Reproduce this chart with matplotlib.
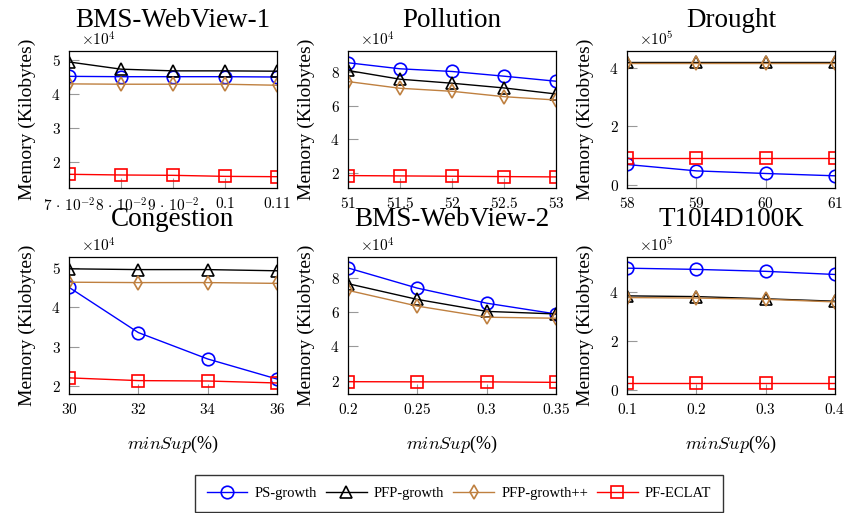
import matplotlib
matplotlib.use("Agg")
import matplotlib.pyplot as plt
from matplotlib.ticker import FuncFormatter

plt.rcParams['font.family'] = ['Liberation Serif', 'DejaVu Serif']
plt.rcParams['mathtext.fontset'] = 'cm'

# memory in kilobytes
titles = ["BMS-WebView-1", "Pollution", "Drought", "Congestion", "BMS-WebView-2", "T10I4D100K"]
xs = [
    [0.07, 0.08, 0.09, 0.1, 0.11],
    [51, 51.5, 52, 52.5, 53],
    [58, 59, 60, 61],
    [30, 32, 34, 36],
    [0.2, 0.25, 0.3, 0.35],
    [0.1, 0.2, 0.3, 0.4],
]
ps_growth = [
    [45100, 45000, 45000, 45000, 44900],
    [85600, 82000, 80400, 77600, 74600],
    [69000, 47000, 38000, 30000],
    [45100, 33600, 26900, 21800],
    [85900, 74100, 65300, 59000],
    [500000, 495000, 487000, 474000],
]
pfp_growth = [
    [49300, 47200, 46700, 46700, 46600],
    [81000, 75800, 73400, 70600, 67000],
    [423000, 423000, 423000, 423000],
    [49800, 49600, 49600, 49300],
    [76700, 67500, 60500, 59000],
    [386000, 383000, 374000, 364000],
]
pfp_growthpp = [
    [42900, 42800, 42800, 42800, 42500],
    [74400, 70400, 68600, 65400, 63400],
    [420000, 420000, 420000, 420000],
    [46400, 46300, 46300, 46100],
    [72800, 63600, 57100, 56500],
    [379000, 377000, 372000, 361000],
]
pf_eclat = [
    [16500, 16300, 16200, 15900, 15800],
    [18400, 18200, 18000, 17800, 17600],
    [92000, 92000, 92000, 92000],
    [22100, 21400, 21300, 20800],
    [19400, 19300, 19300, 19000],
    [26000, 26000, 26000, 26000],
]
scales = [4, 4, 5, 4, 4, 5]
yticks = [[2, 3, 4, 5], [2, 4, 6, 8], [0, 2, 4], [2, 3, 4, 5], [2, 4, 6, 8], [0, 2, 4]]
ylims = [(1.25, 5.25), (1.1, 9.26), (-0.12, 4.6), (1.8, 5.28), (1.22, 9.23), (-0.18, 5.46)]
bms1_xlabels = [r'$7\,\cdot\,10^{-2}$', r'$8\,\cdot\,10^{-2}$', r'$9\,\cdot\,10^{-2}$', r'$0.1$', r'$0.11$']

series = [
    ("PS-growth", ps_growth, "blue", "o"),
    ("PFP-growth", pfp_growth, "black", "^"),
    ("PFP-growth++", pfp_growthpp, "#BF8040", "d"),
    ("PF-ECLAT", pf_eclat, "red", "s"),
]

W, H = 846, 513
fig = plt.figure(figsize=(W / 100, H / 100), dpi=100)
lefts = [69, 348, 627]
tops = [51, 257]
aw, ah = 208, 137

for i in range(6):
    r, c = divmod(i, 3)
    ax = fig.add_axes([lefts[c] / W, 1 - (tops[r] + ah) / H, aw / W, ah / H])
    sc = 10 ** scales[i]
    for name, data, col, mk in series:
        ax.plot(xs[i], [v / sc for v in data[i]], color=col, marker=mk, lw=1.0,
                markersize=9 if mk != "d" else 7.5, markerfacecolor="none",
                markeredgewidth=1.2, label=name)
    ax.set_xlim(xs[i][0], xs[i][-1])
    ax.set_ylim(*ylims[i])
    ax.set_xticks(xs[i])
    ax.set_yticks(yticks[i])
    if i == 0:
        ax.set_xticklabels(bms1_xlabels)
    else:
        ax.xaxis.set_major_formatter(FuncFormatter(lambda v, p: '$%g$' % v))
    ax.yaxis.set_major_formatter(FuncFormatter(lambda v, p: '$%g$' % v))
    ax.tick_params(direction='in', length=7, width=0.8, color='#999999',
                   labelsize=11, top=False, right=False, pad=6)
    for s in ax.spines.values():
        s.set_linewidth(0.9)
    ax.text(0.06, 1.02, r'$\times10^{%d}$' % scales[i], transform=ax.transAxes,
            fontsize=11, ha='left', va='bottom')
    ax.set_title(titles[i], fontsize=19.5, pad=17.5 if r == 0 else 22)
    ax.set_ylabel("Memory (Kilobytes)", fontsize=14, labelpad=11)
    if r == 1:
        ax.set_xlabel(r'$minSup$(%)', fontsize=13, labelpad=12)

handles, labels = ax.get_legend_handles_labels()
fig.legend(handles, labels, loc='center', bbox_to_anchor=(459 / W, 1 - 493.5 / H), ncol=4,
           fontsize=10.5, frameon=True, fancybox=False, edgecolor='black',
           handlelength=2.8, columnspacing=0.6, handletextpad=0.5, borderpad=0.8)

fig.savefig("out.png", dpi=100)
